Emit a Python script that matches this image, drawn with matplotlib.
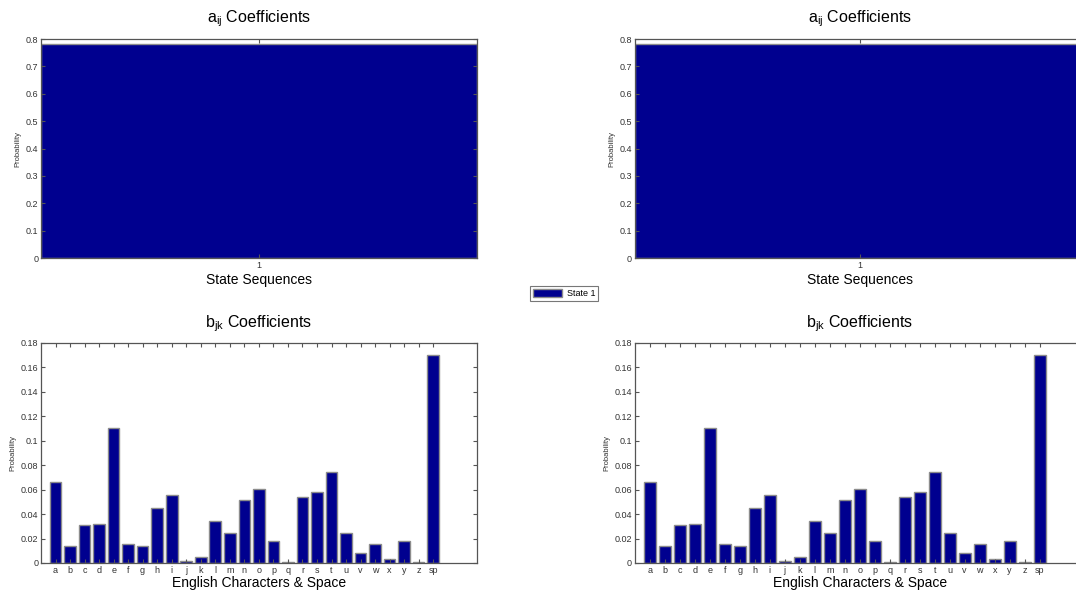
import matplotlib
matplotlib.use('Agg')
import matplotlib.pyplot as plt
from matplotlib.patches import Patch

plt.rcParams['font.family'] = ['Liberation Sans', 'DejaVu Sans']
plt.rcParams['mathtext.fontset'] = 'custom'
plt.rcParams['mathtext.rm'] = 'Liberation Sans'
plt.rcParams['mathtext.it'] = 'Liberation Sans'

# transition coefficients (single state)
states = [1]
a_ij = [0.782]

# emission coefficients per character
chars = ['a', 'b', 'c', 'd', 'e', 'f', 'g', 'h', 'i', 'j', 'k', 'l', 'm',
         'n', 'o', 'p', 'q', 'r', 's', 't', 'u', 'v', 'w', 'x', 'y', 'z', 'sp']
b_jk = [0.066, 0.0137, 0.0309, 0.0317, 0.110, 0.0153, 0.0142, 0.0446, 0.0553,
        0.0016, 0.0049, 0.0347, 0.0246, 0.0517, 0.0607, 0.0183, 0.0011, 0.0539,
        0.058, 0.0741, 0.0246, 0.0085, 0.0153, 0.003, 0.0183, 0.0011, 0.170]

bar_color = '#00008f'
edge_color = '#8c8c8c'
spine_color = '#555555'
text_color = '#333333'

fig = plt.figure(figsize=(10.76, 5.9), dpi=100)


def style_axes(ax):
    for s in ax.spines.values():
        s.set_color(spine_color)
        s.set_linewidth(0.9)
    ax.tick_params(direction='in', length=3, width=0.8, color=spine_color,
                   labelsize=6.5, labelcolor=text_color,
                   top=True, right=True, pad=2)
    ax.set_ylabel('Probability', fontsize=5.5, color=text_color, labelpad=3)


def draw_a(ax):
    ax.bar(states, a_ij, width=0.8, color=bar_color, edgecolor=edge_color,
           linewidth=1.0)
    ax.set_xlim(0.6, 1.4)
    ax.set_ylim(0, 0.8)
    ax.set_xticks(states)
    ax.set_yticks([0, 0.1, 0.2, 0.3, 0.4, 0.5, 0.6, 0.7, 0.8])
    ax.set_yticklabels(['0', '0.1', '0.2', '0.3', '0.4', '0.5', '0.6', '0.7', '0.8'])
    style_axes(ax)
    ax.set_title(r'a$_{ij}$ Coefficients', fontsize=11.5, pad=12)
    ax.set_xlabel('State Sequences', fontsize=10, labelpad=2)


def draw_b(ax):
    xs = list(range(1, len(chars) + 1))
    ax.bar(xs, b_jk, width=0.8, color=bar_color, edgecolor=edge_color,
           linewidth=1.0)
    ax.set_xlim(0, 30)
    ax.set_ylim(0, 0.18)
    ax.set_xticks(xs)
    ax.set_xticklabels(chars, fontsize=6)
    yt = [0, 0.02, 0.04, 0.06, 0.08, 0.1, 0.12, 0.14, 0.16, 0.18]
    ax.set_yticks(yt)
    ax.set_yticklabels(['0', '0.02', '0.04', '0.06', '0.08', '0.1', '0.12',
                        '0.14', '0.16', '0.18'])
    style_axes(ax)
    ax.set_title(r'b$_{jk}$ Coefficients', fontsize=11.5, pad=11)
    ax.set_xlabel('English Characters & Space', fontsize=10, labelpad=1)


ax1 = fig.add_axes([0.0381, 0.5627, 0.405, 0.371])
ax2 = fig.add_axes([0.590, 0.5627, 0.418, 0.371])
ax3 = fig.add_axes([0.0381, 0.0458, 0.405, 0.373])
ax4 = fig.add_axes([0.590, 0.0458, 0.418, 0.373])

draw_a(ax1)
draw_a(ax2)
draw_b(ax3)
draw_b(ax4)

leg = fig.legend(handles=[Patch(facecolor=bar_color, edgecolor=edge_color,
                                label='State 1')],
                 loc='center', bbox_to_anchor=(0.524, 0.5025),
                 fontsize=6.5, frameon=True, fancybox=False,
                 handlelength=3.3, handleheight=0.9, borderpad=0.3,
                 handletextpad=0.45, borderaxespad=0)
leg.get_frame().set_edgecolor(spine_color)
leg.get_frame().set_linewidth(0.8)

fig.savefig('out.png', dpi=100)
